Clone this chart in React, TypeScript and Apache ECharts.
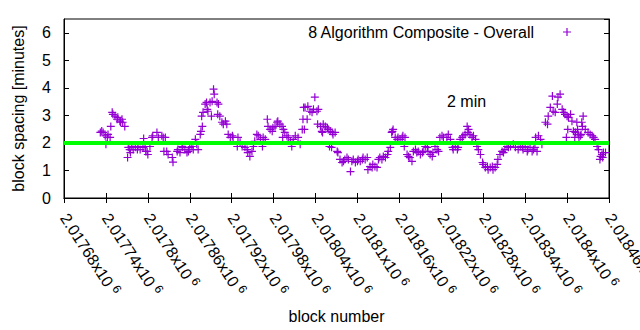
import React, { useEffect, useRef } from "react";
import * as echarts from "echarts";

const blocks: number[] = [
  2017732, 2017734, 2017736, 2017739, 2017740, 2017742, 2017743, 2017746, 2017747, 2017749,
  2017750, 2017753, 2017756, 2017757, 2017760, 2017761, 2017763, 2017764, 2017767, 2017772,
  2017771, 2017774, 2017775, 2017777, 2017779, 2017782, 2017785, 2017786, 2017789, 2017793,
  2017794, 2017796, 2017797, 2017799, 2017800, 2017803, 2017806, 2017807, 2017813, 2017815,
  2017820, 2017822, 2017823, 2017825, 2017827, 2017829, 2017835, 2017836, 2017842, 2017843,
  2017846, 2017849, 2017850, 2017853, 2017856, 2017858, 2017860, 2017863, 2017865, 2017868,
  2017870, 2017872, 2017875, 2017876, 2017878, 2017877, 2017879, 2017882, 2017885, 2017884,
  2017886, 2017889, 2017892, 2017891, 2017895, 2017894, 2017899, 2017901, 2017900, 2017903,
  2017906, 2017908, 2017911, 2017913, 2017915, 2017918, 2017921, 2017922, 2017928, 2017929,
  2017932, 2017935, 2017939, 2017942, 2017943, 2017946, 2017949, 2017951, 2017953, 2017956,
  2017958, 2017961, 2017964, 2017965, 2017968, 2017971, 2017972, 2017975, 2017978, 2017979,
  2017982, 2017985, 2017986, 2017989, 2017992, 2017994, 2017993, 2017996, 2017999, 2018001,
  2018004, 2018006, 2018008, 2018011, 2018015, 2018018, 2018021, 2018022, 2018023, 2018025,
  2018024, 2018028, 2018029, 2018032, 2018035, 2018037, 2018039, 2018042, 2018044, 2018043,
  2018047, 2018049, 2018050, 2018051, 2018054, 2018057, 2018058, 2018061, 2018060, 2018064,
  2018063, 2018065, 2018068, 2018071, 2018072, 2018075, 2018078, 2018080, 2018082, 2018085,
  2018087, 2018090, 2018092, 2018094, 2018097, 2018100, 2018101, 2018104, 2018107, 2018108,
  2018111, 2018114, 2018115, 2018118, 2018121, 2018122, 2018125, 2018128, 2018130, 2018132,
  2018135, 2018137, 2018140, 2018143, 2018144, 2018147, 2018150, 2018149, 2018151, 2018154,
  2018157, 2018158, 2018161, 2018164, 2018165, 2018168, 2018167, 2018171, 2018173, 2018175,
  2018178, 2018180, 2018183, 2018185, 2018187, 2018190, 2018193, 2018194, 2018197, 2018200,
  2018201, 2018204, 2018207, 2018208, 2018211, 2018214, 2018216, 2018218, 2018221, 2018223,
  2018228, 2018230, 2018233, 2018236, 2018237, 2018240, 2018243, 2018244, 2018247, 2018250,
  2018251, 2018254, 2018257, 2018259, 2018258, 2018261, 2018264, 2018266, 2018269, 2018271,
  2018273, 2018276, 2018279, 2018280, 2018283, 2018286, 2018287, 2018290, 2018293, 2018294,
  2018297, 2018300, 2018301, 2018304, 2018307, 2018309, 2018311, 2018314, 2018316, 2018319,
  2018323, 2018326, 2018330, 2018333, 2018336, 2018337, 2018340, 2018343, 2018344, 2018347,
  2018350, 2018352, 2018354, 2018355, 2018357, 2018359, 2018362, 2018364, 2018369, 2018372,
  2018373, 2018376, 2018379, 2018380, 2018383, 2018386, 2018387, 2018390, 2018393, 2018395,
  2018397, 2018400, 2018399, 2018402, 2018401, 2018405, 2018407, 2018409, 2018412, 2018411,
  2018415, 2018414, 2018416, 2018417, 2018419, 2018422, 2018421, 2018420, 2018423, 2018426,
  2018430, 2018433, 2018436, 2018438, 2018440, 2018443, 2018445, 2018448, 2018447, 2018450,
  2018451, 2018452, 2018455,
];

const spacing: number[] = [
  2.38, 2.43, 2.38, 2.26, 1.95, 2.2, 2.31, 2.2, 2.6, 3.11,
  3.04, 2.97, 2.86, 2.93, 2.79, 2.75, 2.86, 2.75, 2.6, 1.84,
  1.47, 1.76, 1.65, 1.87, 1.76, 1.84, 1.76, 1.87, 1.76, 1.84,
  2.16, 1.87, 1.69, 1.69, 1.58, 1.87, 2.2, 2.26, 2.38, 2.2,
  2.26, 2.2, 1.69, 2.2, 1.69, 1.58, 1.47, 1.3, 1.69, 1.76,
  1.65, 1.87, 1.84, 1.76, 1.65, 1.69, 1.84, 1.87, 1.76, 2.13,
  1.95, 1.76, 2.31, 2.42, 2.6, 2.97, 3.11, 3.41, 3.22, 3.47,
  3.15, 3.47, 3.51, 2.97, 3.77, 3.95, 3.47, 3.41, 3.04, 2.97,
  2.75, 2.68, 2.79, 2.68, 2.31, 2.2, 2.26, 2.2, 1.87, 2.2,
  2.02, 1.87, 1.84, 1.76, 1.65, 1.51, 1.69, 1.87, 2.06, 2.31,
  2.26, 2.13, 1.87, 2.2, 2.13, 2.86, 2.6, 2.49, 2.42, 2.55,
  2.6, 2.75, 2.79, 2.68, 2.6, 2.49, 2.2, 2.38, 2.26, 2.2,
  2.06, 1.87, 2.13, 2.26, 2.2, 1.95, 2.49, 2.86, 3.29, 3.29,
  2.49, 2.86, 3.33, 3.15, 3.11, 3.22, 3.66, 3.15, 3.22, 2.68,
  2.6, 2.42, 2.38, 2.68, 2.6, 2.55, 2.49, 2.42, 1.87, 2.38,
  1.84, 2.31, 2.38, 1.69, 1.65, 1.4, 1.29, 1.33, 1.4, 1.47,
  1.4, 0.96, 1.33, 1.4, 1.29, 1.33, 1.4, 1.33, 1.4, 1.47,
  1.4, 1.47, 1.03, 1.14, 1.11, 1.22, 1.14, 1.11, 1.4, 1.47,
  1.4, 1.51, 1.47, 1.58, 1.69, 1.84, 2.42, 2.38, 2.49, 2.2,
  2.13, 2.2, 2.13, 2.2, 2.26, 2.2, 1.87, 1.58, 1.51, 1.47,
  1.33, 1.69, 1.76, 1.65, 1.69, 1.58, 1.65, 1.69, 1.87, 1.84,
  1.69, 1.58, 1.51, 1.65, 1.87, 1.76, 1.69, 2.2, 2.26, 2.2,
  2.2, 2.31, 2.13, 1.84, 1.76, 1.87, 1.76, 1.84, 2.13, 2.2,
  2.26, 2.31, 2.6, 2.49, 2.38, 2.31, 2.2, 2.26, 2.13, 1.87,
  1.76, 1.58, 1.29, 1.22, 1.11, 1.14, 1.03, 1.11, 1.14, 1.03,
  1.11, 1.22, 1.4, 1.58, 1.69, 1.65, 1.76, 1.87, 1.84, 1.87,
  1.95, 1.84, 1.76, 1.87, 1.84, 1.76, 1.87, 1.69, 1.76, 1.84,
  1.69, 1.76, 1.84, 2.2, 1.69, 2.26, 2.13, 1.95, 2.75, 2.68,
  2.97, 3.29, 3.7, 3.15, 3.11, 3.41, 3.66, 3.77, 3.22, 3.11,
  3.04, 2.97, 2.2, 2.93, 2.49, 3.04, 2.79, 2.42, 2.38, 2.2,
  2.49, 2.75, 2.31, 2.2, 2.26, 2.6, 2.75, 2.31, 2.97, 2.49,
  2.38, 2.31, 2.26, 2.2, 2.13, 1.87, 1.76, 1.51, 1.4, 1.58,
  1.47, 1.65, 1.65,
];

const xTickLabels: string[] = [
  "2.01768", "2.01774", "2.0178", "2.01786", "2.01792", "2.01798", "2.01804",
  "2.0181", "2.01816", "2.01822", "2.01828", "2.01834", "2.0184", "2.01846",
];
const xMin = 2017680;
const xMax = 2018460;
const xStep = 60;
const yTicks: number[] = [0, 1, 2, 3, 4, 5, 6];
const targetMinutes = 2;
const seriesName = "8 Algorithm Composite - Overall";
const targetLabel = "2 min";

const PLUS = "path://M3.4,0H4.6V3.4H8V4.6H4.6V8H3.4V4.6H0V3.4H3.4Z";
const PURPLE = "#9400d3";
const FONT = "Liberation Sans, Arial, sans-serif";

export default function App() {
  const ref = useRef<HTMLDivElement>(null);
  useEffect(() => {
    document.body.style.margin = "0";
    if (!ref.current) return;
    const chart = echarts.init(ref.current, null, { renderer: "svg" });
    const data = blocks.map((b, i) => [b, spacing[i]]);
    const tickCommon = { show: true, inside: true, length: 5, lineStyle: { color: "#000", width: 1 } };
    chart.setOption({
      animation: false,
      textStyle: { fontFamily: FONT, color: "#000" },
      grid: {
        left: 64, right: 31, top: 19, bottom: 132,
        containLabel: false,
        outerBoundsMode: "none",
        show: true, borderColor: "#000", borderWidth: 1, backgroundColor: "transparent",
      },
      legend: {
        show: true,
        right: 69,
        top: 24,
        padding: 0,
        align: "right",
        itemWidth: 8,
        itemHeight: 8,
        icon: PLUS,
        textStyle: { fontSize: 16, color: "#000", fontFamily: FONT, padding: [0, 24, 0, 0] },
        data: [{ name: seriesName, icon: PLUS, itemStyle: { color: PURPLE } }],
      },
      xAxis: [
        {
          type: "value",
          min: xMin,
          max: xMax,
          interval: xStep,
          position: "bottom",
          name: "block number",
          nameLocation: "middle",
          nameGap: 110,
          nameTextStyle: { fontSize: 16, color: "#000", fontFamily: FONT },
          axisLine: { show: true, lineStyle: { color: "#000", width: 1 } },
          axisTick: tickCommon,
          splitLine: { show: false },
          axisLabel: {
            show: true,
            rotate: -57,
            margin: 17,
            fontSize: 16,
            color: "#000",
            fontFamily: FONT,
            hideOverlap: false,
            formatter: (v: number) => {
              const idx = Math.round((v - xMin) / xStep);
              return `${xTickLabels[idx] ?? ""}x10{sup|6}`;
            },
            rich: { sup: { fontSize: 12, color: "#000", fontFamily: FONT, padding: [0, 0, 8, 4] } },
          },
        },
        {
          type: "value",
          min: xMin,
          max: xMax,
          interval: xStep,
          position: "top",
          axisLine: { show: true, lineStyle: { color: "#000", width: 1 } },
          axisTick: tickCommon,
          axisLabel: { show: false },
          splitLine: { show: false },
        },
      ],
      yAxis: [
        {
          type: "value",
          min: 0,
          max: 6.5,
          interval: 1,
          position: "left",
          name: "block spacing [minutes]",
          nameLocation: "middle",
          nameGap: 38,
          nameRotate: 90,
          nameTextStyle: { fontSize: 16, color: "#000", fontFamily: FONT },
          axisLine: { show: true, lineStyle: { color: "#000", width: 1 } },
          axisTick: tickCommon,
          splitLine: { show: false },
          axisLabel: {
            show: true,
            margin: 13,
            fontSize: 16,
            color: "#000",
            fontFamily: FONT,
            showMaxLabel: false,
            formatter: (v: number) => (yTicks.includes(v) ? String(v) : ""),
          },
        },
        {
          type: "value",
          min: 0,
          max: 6.5,
          interval: 1,
          position: "right",
          axisLine: { show: true, lineStyle: { color: "#000", width: 1 } },
          axisTick: tickCommon,
          axisLabel: { show: false },
          splitLine: { show: false },
        },
      ],
      series: [
        {
          name: seriesName,
          type: "scatter",
          xAxisIndex: 0,
          yAxisIndex: 0,
          symbol: PLUS,
          symbolSize: 8,
          itemStyle: { color: PURPLE, opacity: 1 },
          data,
          z: 2,
        },
        {
          name: "target",
          type: "line",
          xAxisIndex: 0,
          yAxisIndex: 0,
          data: [],
          z: 5,
          markLine: {
            silent: true,
            symbol: "none",
            label: { show: false },
            lineStyle: { color: "#00ff00", width: 4, type: "solid", opacity: 1 },
            data: [{ yAxis: targetMinutes }],
          },
        },
      ],
      graphic: [
        {
          type: "text",
          left: 447,
          top: 93,
          style: { text: targetLabel, fontSize: 16, fill: "#000", fontFamily: FONT },
        },
      ],
    });
    return () => chart.dispose();
  }, []);
  return <div ref={ref} style={{ width: 640, height: 330, position: "absolute", left: 0, top: 0 }} />;
}
